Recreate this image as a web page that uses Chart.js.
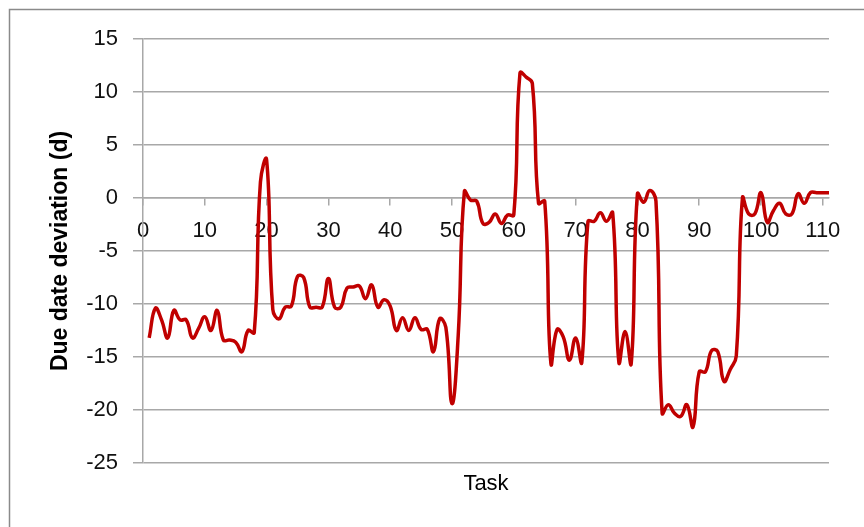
<!DOCTYPE html>
<html>
<head>
<meta charset="utf-8">
<script src="https://cdn.jsdelivr.net/npm/chart.js@4/dist/chart.umd.min.js"></script>
<style>
  html, body { margin: 0; padding: 0; background: #fff; }
  #wrap { width: 864px; height: 527px; position: relative; }
</style>
</head>
<body>
<div id="wrap"><canvas id="c" width="864" height="527"></canvas></div>
<script>
const tasks = [1,2,3,4,5,6,7,8,9,10,11,12,13,14,15,16,17,18,19,20,
  21,22,23,24,25,26,27,28,29,30,31,32,33,34,35,36,37,38,39,40,
  41,42,43,44,45,46,47,48,49,50,51,52,53,54,55,56,57,58,59,60,
  61,62,63,64,65,66,67,68,69,70,71,72,73,74,75,76,77,78,79,80,
  81,82,83,84,85,86,87,88,89,90,91,92,93,94,95,96,97,98,99,100,
  101,102,103,104,105,106,107,108,109,110,111];
const deviation = [
  -13.2,-10.4,-11.5,-13.2,-10.6,-11.5,-11.5,-13.2,-12.3,-11.2,
  -12.5,-10.6,-13.4,-13.4,-13.6,-14.5,-12.5,-12.7,1.5,3.6,
  -10.5,-11.4,-10.3,-10.2,-7.4,-7.5,-10.3,-10.3,-10.3,-7.6,
  -10.3,-10.3,-8.5,-8.4,-8.3,-9.5,-8.2,-10.3,-9.6,-10.2,
  -12.5,-11.3,-12.5,-11.3,-12.4,-12.4,-14.5,-11.4,-12.2,-19.4,
  -13.0,0.6,-0.2,-0.3,-2.4,-2.3,-1.5,-2.4,-1.6,-1.6,
  11.8,11.4,10.8,-0.5,-0.3,-15.6,-12.4,-13.1,-15.3,-13.2,
  -15.5,-2.2,-2.2,-1.4,-2.2,-1.4,-15.5,-12.6,-15.6,0.4,
  -0.4,0.7,-0.3,-20.3,-19.5,-20.3,-20.6,-19.5,-21.6,-16.4,
  -16.4,-14.4,-14.5,-17.3,-16.2,-14.9,0.0,-1.5,-1.5,0.5,
  -2.3,-1.2,-0.5,-1.5,-1.5,0.4,-0.5,0.5,0.5,0.5,0.5];
const xTickValues = [0,10,20,30,40,50,60,70,80,90,100,110];
const yTickValues = [-25,-20,-15,-10,-5,0,5,10,15];
const xTitle = "Task";
const yTitle = "Due date deviation (d)";

const FONT = "'Liberation Sans', Arial, sans-serif";
const GRID = "#a8a8a8";

const frame = {
  id: 'frame',
  beforeDraw(chart) {
    const ctx = chart.ctx;
    ctx.save();
    ctx.fillStyle = '#fff';
    ctx.fillRect(0, 0, chart.width, chart.height);
    ctx.strokeStyle = '#8a8a8a';
    ctx.lineWidth = 1.5;
    ctx.strokeRect(9.5, 9.5, 1000, 1000);
    ctx.restore();
  },
  afterDraw(chart) {
    const ctx = chart.ctx;
    const a = chart.chartArea;
    ctx.save();
    ctx.fillStyle = '#000';
    ctx.font = "22px " + FONT;
    ctx.textAlign = 'center';
    ctx.textBaseline = 'middle';
    ctx.fillText(xTitle, (a.left + a.right) / 2, a.bottom + 21);
    ctx.restore();
  }
};

new Chart(document.getElementById('c'), {
  type: 'line',
  data: {
    datasets: [{
      data: tasks.map((t, i) => ({ x: t, y: deviation[i] })),
      borderColor: '#c00000',
      borderWidth: 3.5,
      pointRadius: 0,
      tension: 0.45,
      fill: false
    }]
  },
  options: {
    responsive: false,
    animation: false,
    devicePixelRatio: 1,
    layout: { padding: { top: 39, right: 35, left: 0, bottom: 64 } },
    plugins: {
      legend: { display: false },
      tooltip: { enabled: false },
      title: { display: false }
    },
    scales: {
      x: {
        type: 'linear',
        position: { y: 0 },
        min: 0,
        max: 111,
        afterBuildTicks(scale) {
          scale.ticks = xTickValues.map(v => ({ value: v }));
        },
        ticks: {
          autoSkip: false,
          maxRotation: 0,
          color: '#111',
          padding: 13,
          font: { family: FONT, size: 22 }
        },
        grid: {
          drawOnChartArea: false,
          drawTicks: true,
          tickLength: 7,
          color: GRID,
          lineWidth: 1.5
        },
        border: { display: true, color: GRID, width: 1.5 }
      },
      y: {
        type: 'linear',
        min: -25,
        max: 15,
        afterBuildTicks(scale) {
          scale.ticks = yTickValues.map(v => ({ value: v }));
        },
        afterFit(scale) { scale.width = 143; },
        ticks: {
          color: '#111',
          padding: 15,
          font: { family: FONT, size: 22 }
        },
        grid: {
          color: GRID,
          lineWidth: 1.5,
          tickLength: 10
        },
        border: { display: true, color: GRID, width: 1.5 },
        title: {
          display: true,
          text: yTitle,
          color: '#000',
          font: { family: FONT, size: 23, weight: 'bold', lineHeight: 1.2 },
          padding: { top: 47, bottom: 0 }
        }
      }
    }
  },
  plugins: [frame]
});
</script>
</body>
</html>
